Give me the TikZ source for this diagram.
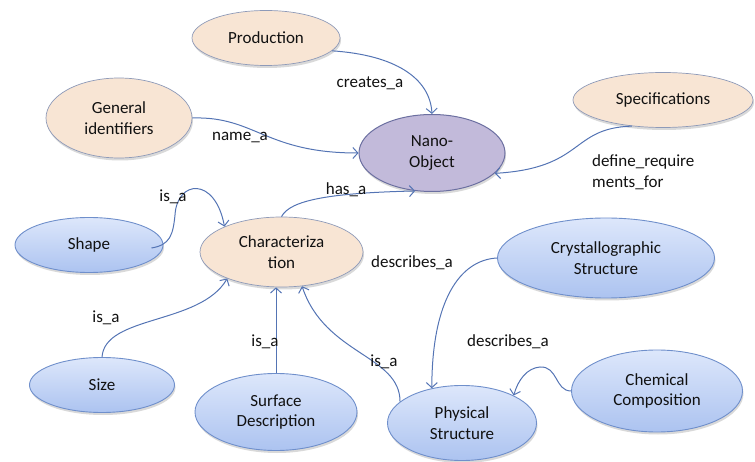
\documentclass[tikz,border=0pt]{standalone}
\usepackage{fontspec}
\setmainfont{Carlito}
\usetikzlibrary{shapes.geometric,arrows.meta,shadows}
\definecolor{peach}{HTML}{F8E5D4}
\definecolor{peachline}{HTML}{8E9AB8}
\definecolor{nanofill}{HTML}{C2BADA}
\definecolor{nanoline}{HTML}{6B6FA0}
\definecolor{bluetop}{HTML}{DDE7FB}
\definecolor{bluebot}{HTML}{ACC3F0}
\definecolor{blueline}{HTML}{6F8FCB}
\definecolor{edgecol}{HTML}{5474B4}
\definecolor{txt}{HTML}{111111}
\tikzset{
  base/.style={ellipse, inner sep=0pt, align=center, text=txt,
    font=\fontsize{17}{20.5}\selectfont,
    drop shadow={shadow xshift=1pt, shadow yshift=-2.5pt, opacity=0.25, fill=black!60}},
  peachnode/.style={base, fill=peach, draw=peachline, line width=0.7pt},
  nanonode/.style={base, fill=nanofill, draw=nanoline, line width=1pt},
  bluenode/.style={base, top color=bluetop, bottom color=bluebot, draw=blueline, line width=0.9pt},
  conn/.style={draw=edgecol, line width=1pt, -{Straight Barb[length=5pt,width=11pt]}},
  lbl/.style={inner sep=0pt, text=txt, font=\fontsize{17}{21}\selectfont, align=left}
}
\begin{document}
\begin{tikzpicture}[x=1pt,y=-1pt]
\useasboundingbox (0,0) rectangle (755,462);
% nodes
\node[peachnode, minimum width=148pt, minimum height=55pt] (prod) at (266,38) {Production};
\node[peachnode, minimum width=146pt, minimum height=80pt] (gen) at (119,118) {General\\identifiers};
\node[nanonode, minimum width=146pt, minimum height=77pt] (nano) at (432,153) {Nano-\\Object};
\node[peachnode, minimum width=180pt, minimum height=55pt] (spec) at (663,100) {Specifications};
\node[peachnode, minimum width=163pt, minimum height=70pt] (char) at (281.5,252) {Characteriza\\tion};
\node[bluenode, minimum width=148pt, minimum height=55pt] (shape) at (89,245) {Shape};
\node[bluenode, minimum width=145pt, minimum height=55pt] (size) at (102,385) {Size};
\node[bluenode, minimum width=162pt, minimum height=77pt] (surf) at (276,412) {Surface\\Description};
\node[bluenode, minimum width=149pt, minimum height=75pt] (phys) at (462,423) {Physical\\Structure};
\node[bluenode, minimum width=217pt, minimum height=80pt] (cryst) at (606,258) {Crystallographic\\Structure};
\node[bluenode, minimum width=171pt, minimum height=82pt] (chem) at (657,391) {Chemical\\Composition};
% connectors
\draw[conn] (prod.-11) .. controls (395,55) and (430,78) .. (nano.north);
\draw[conn] (gen.east) .. controls (255,116) and (265,153) .. (nano.west);
\draw[conn] (spec.220) .. controls (570,128) and (585,168) .. (nano.-18);
\draw[conn] (char.north) .. controls (290,200) and (330,193) .. (nano.-114);
\draw[conn] ([xshift=-12pt,yshift=-3pt]shape.east) .. controls (170,245) and (173,235) .. (175,215)
   .. controls (177,180) and (215,176) .. (char.156);
\draw[conn] (size.north) .. controls (105,315) and (200,325) .. (char.206);
\draw[conn] (surf.north) -- (surf.north |- char.south);
\draw[conn] (phys.161) .. controls (400,355) and (325,355) .. (char.-59);
\draw[conn] (cryst.west) .. controls (460,260) and (432,300) .. (phys.131);
\draw[conn] (chem.west) .. controls (555,391) and (558,366) .. (540,367)
   .. controls (527,368) and (518,380) .. (phys.28);
% labels
\node[lbl] (l1) at (370,83) {creates\_a};
\node[lbl] (l2) at (240,138) {name\_a};
\node[lbl, anchor=west] (l3) at (592,172) {define\_require\\ments\_for};
\node[lbl] (l4) at (346,190) {has\_a};
\node[lbl] (l5) at (173,197) {is\_a};
\node[lbl] (l6) at (106,318) {is\_a};
\node[lbl] (l7) at (265,342) {is\_a};
\node[lbl] (l8) at (384,362) {is\_a};
\node[lbl] (l9) at (412,263) {describes\_a};
\node[lbl] (l10) at (508,342) {describes\_a};
\end{tikzpicture}
\end{document}
